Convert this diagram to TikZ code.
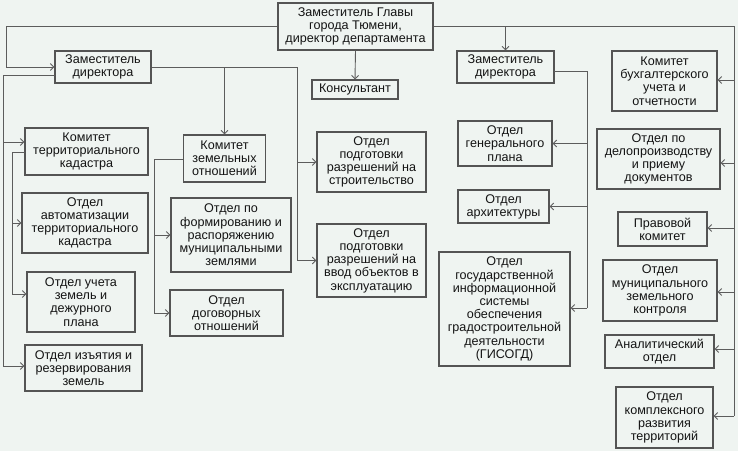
\documentclass[tikz,border=0pt]{standalone}
\usepackage{fontspec}
\setmainfont{Liberation Sans}
\usetikzlibrary{arrows.meta}
\definecolor{bgc}{rgb}{0.937,0.957,0.945}
\definecolor{boxline}{rgb}{0.33,0.33,0.33}
\definecolor{conline}{rgb}{0.36,0.36,0.36}
\definecolor{txt}{rgb}{0.08,0.08,0.08}
\begin{document}
\begin{tikzpicture}[x=1pt,y=-1pt,
  box/.style={draw=boxline,line width=1.1pt,fill=bgc,align=center,inner sep=0pt,
    text=txt,font=\fontsize{12.6}{13.2}\selectfont},
  con/.style={draw=conline,line width=0.9pt},
  arr/.style={con,-{Straight Barb[length=3.5pt,width=7pt]}}]
\fill[bgc] (0,0) rectangle (738,451);
\useasboundingbox (0,0) rectangle (738,451);
% nodes
\node[box,minimum width=155,minimum height=47] (top) at (355.5,26.5) {Заместитель Главы\\города Тюмени,\\директор департамента};
\node[box,minimum width=96,minimum height=32] (zl) at (103,67) {Заместитель\\директора};
\node[box,minimum width=86,minimum height=19] (cons) at (355,89.5) {Консультант};
\node[box,minimum width=97,minimum height=32] (zr) at (505.5,67) {Заместитель\\директора};
\node[box,minimum width=123,minimum height=47] (ktk) at (86.5,151.5) {Комитет\\территориального\\кадастра};
\node[box,minimum width=126,minimum height=60] (oat) at (85,223) {Отдел\\автоматизации\\территориального\\кадастра};
\node[box,minimum width=108,minimum height=60] (ouz) at (81,302) {Отдел учета\\земель и\\дежурного\\плана};
\node[box,minimum width=117,minimum height=46] (oiz) at (83.5,368) {Отдел изъятия и\\резервирования\\земель};
\node[box,minimum width=82,minimum height=47] (kzo) at (224.5,158.5) {Комитет\\земельных\\отношений};
\node[box,minimum width=120,minimum height=74] (ofr) at (231,235) {Отдел по\\формированию и\\распоряжению\\муниципальными\\землями};
\node[box,minimum width=113,minimum height=46] (odo) at (226.5,313) {Отдел\\договорных\\отношений};
\node[box,minimum width=109,minimum height=60] (ops) at (371.5,162) {Отдел\\подготовки\\разрешений на\\строительство};
\node[box,minimum width=109,minimum height=73] (opv) at (371.5,260.5) {Отдел\\подготовки\\разрешений на\\ввод объектов в\\эксплуатацию};
\node[box,minimum width=94,minimum height=45] (ogp) at (505,143.5) {Отдел\\генерального\\плана};
\node[box,minimum width=91,minimum height=33] (oar) at (503.5,206.5) {Отдел\\архитектуры};
\node[box,minimum width=131,minimum height=114] (gis) at (504.5,309) {Отдел\\государственной\\информационной\\системы\\обеспечения\\градостроительной\\деятельности\\(ГИСОГД)};
\node[box,minimum width=105,minimum height=60] (kbu) at (664.5,81) {Комитет\\бухгалтерского\\учета и\\отчетности};
\node[box,minimum width=123,minimum height=60] (odp) at (658.5,159) {Отдел по\\делопроизводству\\и приему\\документов};
\node[box,minimum width=89,minimum height=34] (pk) at (662.5,229) {Правовой\\комитет};
\node[box,minimum width=114,minimum height=61] (omz) at (660,290.5) {Отдел\\муниципального\\земельного\\контроля};
\node[box,minimum width=109,minimum height=33] (an) at (659.5,351.5) {Аналитический\\отдел};
\node[box,minimum width=97,minimum height=61] (okr) at (664.5,417.5) {Отдел\\комплексного\\развития\\территорий};
% coordinates
\coordinate (tl) at (6,26.5);
\coordinate (tr) at (734,26.5);
\coordinate (trb) at (734,416);
\coordinate (tzr) at (505.5,26.5);
\coordinate (zlo) at (55,75);
\coordinate (ll) at (3,75);
\coordinate (llb) at (3,366);
\coordinate (zle) at (297,67);
\coordinate (zleb) at (297,260.5);
\coordinate (zlm) at (224.5,67);
\coordinate (kto) at (25,152);
\coordinate (ktl) at (12,152);
\coordinate (ktlb) at (12,294);
\coordinate (kzl) at (154,159);
\coordinate (kzlb) at (154,313);
\coordinate (zro) at (554,71);
\coordinate (zrl) at (587,71);
\coordinate (zrlb) at (587,308);
% connectors from top
\draw[arr] (top.west) -- (tl) |- (zl.west);
\draw[con] (top.east) -- (tr) -- (trb);
\draw[arr] (tzr) -- (zr.north);
\draw[arr] (top.south) -- (cons.north);
\draw[arr] (trb) -- (okr.east |- trb);
\draw[arr] (734,80) -- (kbu.east |- 0,80);
\draw[arr] (734,163) -- (odp.east |- 0,163);
\draw[arr] (734,228) -- (pk.east |- 0,228);
\draw[arr] (734,292) -- (omz.east |- 0,292);
\draw[arr] (734,349) -- (an.east |- 0,349);
% left deputy
\draw[con] (zlo) -- (ll) -- (llb);
\draw[arr] (llb) -- (oiz.west |- llb);
\draw[arr] (3,142) -- (ktk.west |- 0,142);
\draw[con] (kto) -- (ktl) -- (ktlb);
\draw[arr] (ktlb) -- (ouz.west |- ktlb);
\draw[arr] (12,223) -- (oat.west);
\draw[con] (zl.east) -- (zle) -- (zleb);
\draw[arr] (zleb) -- (opv.west);
\draw[arr] (297,162) -- (ops.west);
\draw[arr] (zlm) -- (kzo.north);
\draw[con] (kzo.west |- kzl) -- (kzl) -- (kzlb);
\draw[arr] (kzlb) -- (odo.west);
\draw[arr] (154,235) -- (ofr.west);
% right deputy
\draw[con] (zro) -- (zrl) -- (zrlb);
\draw[arr] (zrlb) -- (gis.east |- zrlb);
\draw[arr] (587,143.5) -- (ogp.east);
\draw[arr] (587,206.5) -- (oar.east);
\end{tikzpicture}
\end{document}
